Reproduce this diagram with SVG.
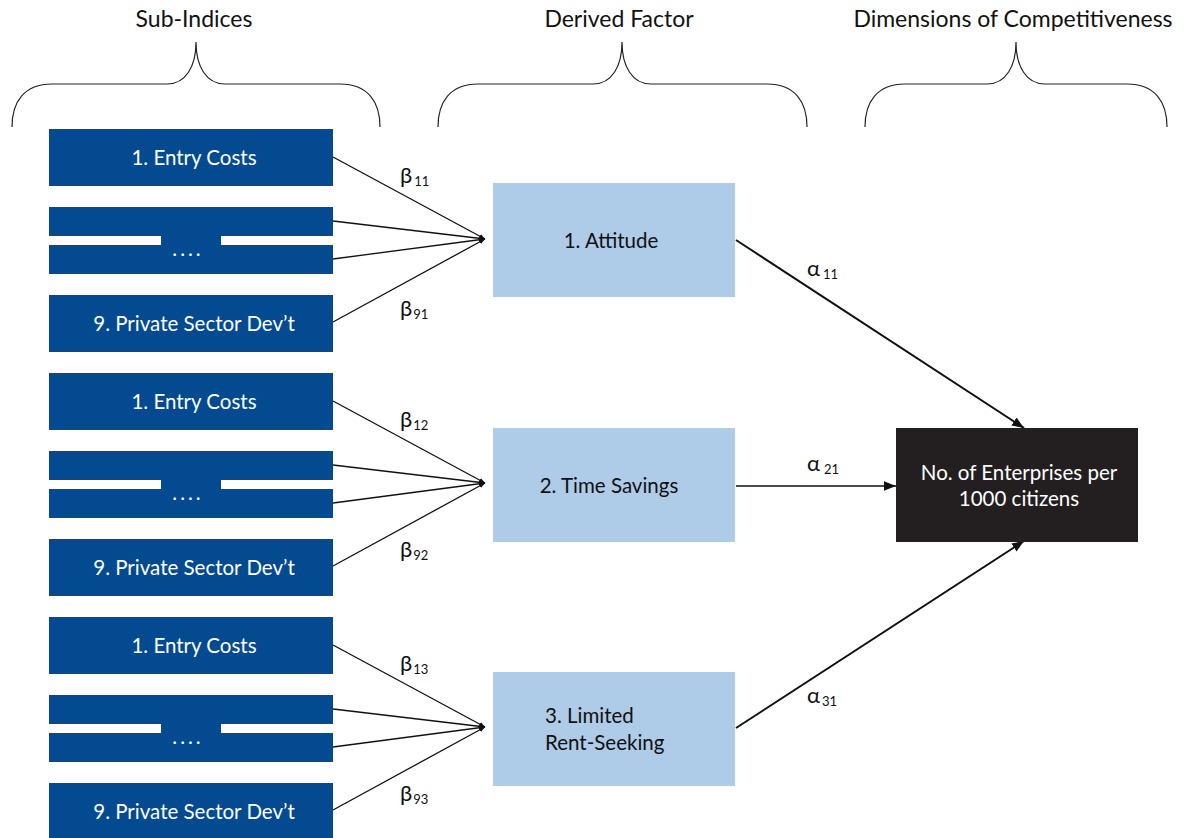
<svg xmlns="http://www.w3.org/2000/svg" width="1189" height="838" viewBox="0 0 1189 838">
<style>
.t{font-family:Lato,"Open Sans","Liberation Sans",sans-serif;}
.title{font-size:23px;fill:#111;text-anchor:middle;}
.sub{fill:#034a91;}
.fac{fill:#aecbe8;}
.wt{font-size:20.5px;fill:#fff;text-anchor:middle;}
.bt{font-size:20.5px;fill:#111;}
.lbl{font-size:22px;fill:#111;}
.sm{font-size:13px;}
.dots{letter-spacing:3px;}
.br{fill:none;stroke:#222;stroke-width:1.2;}
.c{fill:none;stroke:#111;stroke-width:1.3;}
.a{fill:none;stroke:#111;stroke-width:2;}
</style>
<defs>
<marker id="ah" viewBox="0 0 10 10" refX="10" refY="5" markerWidth="6" markerHeight="6" orient="auto" markerUnits="userSpaceOnUse">
<path d="M0,1 L10,5 L0,9 z" fill="#111"/>
</marker>
<marker id="ab" viewBox="0 0 10 10" refX="10" refY="5" markerWidth="12" markerHeight="12" orient="auto" markerUnits="userSpaceOnUse">
<path d="M0,1 L10,5 L0,9 z" fill="#111"/>
</marker>
</defs>
<g id="titles">
<text class="t title" x="194" y="27">Sub-Indices</text>
<text class="t title" x="619" y="27">Derived Factor</text>
<text class="t title" x="1013" y="27">Dimensions of Competitiveness</text>
</g>
<g id="brackets">
<path class="br" d="M12,127 C12,102 24,84 52,84 L167,84 C186,84 196,66 196,42 C196,66 206,84 225,84 L340,84 C368,84 380,102 380,127"/>
<path class="br" d="M438,127 C438,102 450,84 478,84 L593,84 C612,84 622,66 622,42 C622,66 632,84 651,84 L767,84 C795,84 807,102 807,127"/>
<path class="br" d="M865,127 C865,102 877,84 905,84 L987,84 C1006,84 1016,66 1016,42 C1016,66 1026,84 1045,84 L1127,84 C1155,84 1167,102 1167,127"/>
</g>
<g id="connectors">
<path class="c" d="M333,157 L485,239" marker-end="url(#ah)"/>
<path class="c" d="M333,221 L485,239" marker-end="url(#ah)"/>
<path class="c" d="M333,259 L485,239" marker-end="url(#ah)"/>
<path class="c" d="M333,322 L485,239" marker-end="url(#ah)"/>
<path class="c" d="M333,401 L485,483" marker-end="url(#ah)"/>
<path class="c" d="M333,465 L485,483" marker-end="url(#ah)"/>
<path class="c" d="M333,503 L485,483" marker-end="url(#ah)"/>
<path class="c" d="M333,566 L485,483" marker-end="url(#ah)"/>
<path class="c" d="M333,645 L485,727" marker-end="url(#ah)"/>
<path class="c" d="M333,709 L485,727" marker-end="url(#ah)"/>
<path class="c" d="M333,747 L485,727" marker-end="url(#ah)"/>
<path class="c" d="M333,810 L485,727" marker-end="url(#ah)"/>
<path class="a" d="M736,240 L1024,428" marker-end="url(#ab)"/>
<path class="c" d="M736,486 L896,486" marker-end="url(#ab)"/>
<path class="a" d="M736,728 L1024,541" marker-end="url(#ab)"/>
</g>
<g id="labels" class="t">
<text class="lbl" x="400" y="183">β<tspan class="sm" dx="2" dy="3">11</tspan></text>
<text class="lbl" x="400" y="316">β<tspan class="sm" dx="1" dy="3">91</tspan></text>
<text class="lbl" x="400" y="427">β<tspan class="sm" dx="1" dy="3">12</tspan></text>
<text class="lbl" x="400" y="557">β<tspan class="sm" dx="1" dy="3">92</tspan></text>
<text class="lbl" x="400" y="671">β<tspan class="sm" dx="1" dy="3">13</tspan></text>
<text class="lbl" x="400" y="801">β<tspan class="sm" dx="1" dy="3">93</tspan></text>
<text class="lbl" x="807" y="276">α<tspan class="sm" dx="3" dy="3">11</tspan></text>
<text class="lbl" x="807" y="471">α<tspan class="sm" dx="4" dy="3">21</tspan></text>
<text class="lbl" x="807" y="703">α<tspan class="sm" dx="2" dy="3">31</tspan></text>
</g>
<g id="g1-entry">
<rect class="sub" x="49" y="129" width="284" height="57"/>
<text class="t wt" x="194" y="165">1. Entry Costs</text>
</g>
<g id="g1-dots">
<rect class="sub" x="49" y="207" width="284" height="67"/>
<rect fill="#fff" x="49" y="236" width="112" height="9"/>
<rect fill="#fff" x="221" y="236" width="112" height="9"/>
<text class="t wt dots" x="188" y="256">....</text>
</g>
<g id="g1-private">
<rect class="sub" x="49" y="295" width="284" height="57"/>
<text class="t wt" x="194" y="331">9. Private Sector Dev’t</text>
</g>
<g id="g2-entry">
<rect class="sub" x="49" y="373" width="284" height="57"/>
<text class="t wt" x="194" y="409">1. Entry Costs</text>
</g>
<g id="g2-dots">
<rect class="sub" x="49" y="451" width="284" height="67"/>
<rect fill="#fff" x="49" y="480" width="112" height="9"/>
<rect fill="#fff" x="221" y="480" width="112" height="9"/>
<text class="t wt dots" x="188" y="500">....</text>
</g>
<g id="g2-private">
<rect class="sub" x="49" y="539" width="284" height="57"/>
<text class="t wt" x="194" y="575">9. Private Sector Dev’t</text>
</g>
<g id="g3-entry">
<rect class="sub" x="49" y="617" width="284" height="57"/>
<text class="t wt" x="194" y="653">1. Entry Costs</text>
</g>
<g id="g3-dots">
<rect class="sub" x="49" y="695" width="284" height="67"/>
<rect fill="#fff" x="49" y="724" width="112" height="9"/>
<rect fill="#fff" x="221" y="724" width="112" height="9"/>
<text class="t wt dots" x="188" y="744">....</text>
</g>
<g id="g3-private">
<rect class="sub" x="49" y="783" width="284" height="57"/>
<text class="t wt" x="194" y="819">9. Private Sector Dev’t</text>
</g>
<g id="f-attitude">
<rect class="fac" x="493" y="183" width="242" height="114"/>
<text class="t bt" x="611" y="248" text-anchor="middle">1. Attitude</text>
</g>
<g id="f-time">
<rect class="fac" x="493" y="428" width="242" height="114"/>
<text class="t bt" x="609" y="493" text-anchor="middle">2. Time Savings</text>
</g>
<g id="f-rent">
<rect class="fac" x="493" y="672" width="242" height="114"/>
<text class="t bt" x="545" y="723">3. Limited</text>
<text class="t bt" x="545" y="750">Rent-Seeking</text>
</g>
<g id="outcome">
<rect x="896" y="428" width="242" height="114" fill="#231f20"/>
<text class="t wt" x="1019" y="480">No. of Enterprises per</text>
<text class="t wt" x="1019" y="506">1000 citizens</text>
</g>
</svg>
